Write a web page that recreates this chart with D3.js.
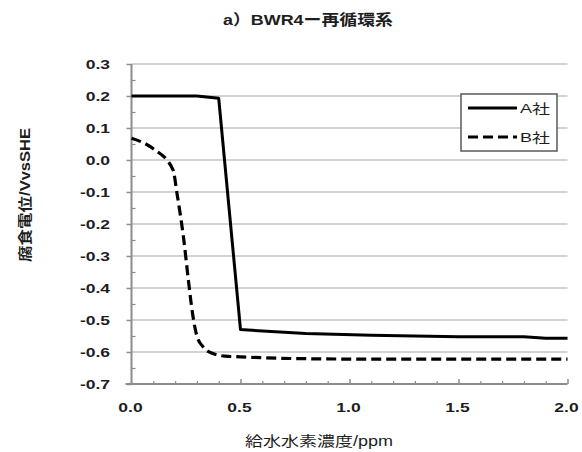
<!DOCTYPE html>
<html>
<head>
<meta charset="utf-8">
<script src="https://cdn.jsdelivr.net/npm/d3@7/dist/d3.min.js"></script>
<style>
  html, body { margin: 0; padding: 0; background: #fff; }
  svg { display: block; }
  text { font-family: "Liberation Sans", Arial, "Noto Sans CJK JP", sans-serif; fill: #1e1e1e; }
</style>
</head>
<body>
<svg id="chart" width="582" height="452"></svg>
<script>
// Corrosion potential vs. feedwater hydrogen concentration (BWR4 recirculation system)
const titleText = "a）BWR4ー再循環系";
const xTitle = "給水水素濃度/ppm";
const yTitle = "腐食電位/VvsSHE";

const seriesNames = ["A社", "B社"];

// Company A (solid line)
const aX = [0, 0.3, 0.4, 0.5, 0.8, 1.1, 1.5, 1.8, 1.9, 2.0];
const aY = [0.2, 0.2, 0.193, -0.53, -0.542, -0.548, -0.552, -0.552, -0.557, -0.557];

// Company B (dashed, smoothed line)
const bX = [0, 0.1, 0.19, 0.21, 0.24, 0.26, 0.28, 0.3, 0.33, 0.37, 0.43, 0.5, 0.6, 0.8, 1.0, 1.5, 2.0];
const bY = [0.068, 0.035, -0.03, -0.11, -0.25, -0.37, -0.48, -0.55, -0.585, -0.604, -0.613, -0.615, -0.618, -0.621, -0.622, -0.622, -0.622];

const xTicks = [0, 0.5, 1.0, 1.5, 2.0];
const yTicks = [0.3, 0.2, 0.1, 0.0, -0.1, -0.2, -0.3, -0.4, -0.5, -0.6, -0.7];

const svg = d3.select("#chart");
const plotLeft = 131.5, plotRight = 567.5, plotTop = 64, plotBottom = 384;

const x = d3.scaleLinear().domain([0, 2]).range([plotLeft, plotRight]);
const y = d3.scaleLinear().domain([-0.7, 0.3]).range([plotBottom, plotTop]);

const grey = "#8c8c8c";

// horizontal gridlines
svg.append("g").selectAll("line")
  .data(yTicks.filter(v => v > -0.7))
  .join("line")
  .attr("x1", plotLeft).attr("x2", plotRight)
  .attr("y1", d => y(d)).attr("y2", d => y(d))
  .attr("stroke", "#a6a6a6").attr("stroke-width", 1.2);

// y axis: outward major ticks, inward minor ticks
const yAxis = svg.append("g").attr("transform", `translate(${plotLeft},0)`)
  .call(d3.axisLeft(y).tickValues(yTicks).tickSize(5).tickFormat(""));
yAxis.select(".domain").remove();
yAxis.selectAll("line").attr("stroke", grey).attr("stroke-width", 1.5);
svg.append("g").attr("transform", `translate(${plotLeft},0)`)
  .call(d3.axisRight(y).tickValues(d3.range(-0.65, 0.3, 0.1)).tickSize(4).tickFormat(""))
  .call(g => g.select(".domain").remove())
  .selectAll("line").attr("stroke", grey).attr("stroke-width", 1.2);
svg.append("line").attr("x1", plotLeft).attr("x2", plotLeft).attr("y1", plotTop).attr("y2", plotBottom)
  .attr("stroke", grey).attr("stroke-width", 2);

// x axis with inward ticks
svg.append("g").attr("transform", `translate(0,${plotBottom})`)
  .call(d3.axisTop(x).tickValues(d3.range(0.1, 2.01, 0.1).filter(v => Math.abs(v * 2 - Math.round(v * 2)) > 1e-6)).tickSize(3).tickFormat(""))
  .call(g => g.select(".domain").remove())
  .selectAll("line").attr("stroke", grey).attr("stroke-width", 1.2);
svg.append("g").attr("transform", `translate(0,${plotBottom})`)
  .call(d3.axisTop(x).tickValues(xTicks.slice(1)).tickSize(5).tickFormat(""))
  .call(g => g.select(".domain").remove())
  .selectAll("line").attr("stroke", grey).attr("stroke-width", 1.5);
svg.append("line").attr("x1", plotLeft - 6).attr("x2", plotRight).attr("y1", plotBottom).attr("y2", plotBottom)
  .attr("stroke", grey).attr("stroke-width", 2);

// tick labels (wide lettering)
const labelScale = 1.4;
svg.append("g").selectAll("g")
  .data(yTicks).join("g")
  .attr("transform", d => `translate(110,${y(d) + 4.5}) scale(${labelScale},1)`)
  .append("text")
  .attr("text-anchor", "end")
  .attr("font-size", 12.5).attr("font-weight", "bold")
  .text(d => d3.format(".1f")(d).replace("−", "-"));

svg.append("g").selectAll("g")
  .data(xTicks).join("g")
  .attr("transform", d => `translate(${x(d) - 1},${412}) scale(${labelScale},1)`)
  .append("text")
  .attr("text-anchor", "middle")
  .attr("font-size", 12.5).attr("font-weight", "bold")
  .text(d => d3.format(".1f")(d));

// titles
svg.append("text")
  .attr("x", 223).attr("y", 25)
  .attr("font-size", 15).attr("font-weight", "bold")
  .attr("textLength", 170).attr("lengthAdjust", "spacingAndGlyphs")
  .text(titleText);

svg.append("text")
  .attr("x", 245).attr("y", 446)
  .attr("font-size", 14)
  .attr("textLength", 148).attr("lengthAdjust", "spacingAndGlyphs")
  .text(xTitle);

svg.append("text")
  .attr("transform", "translate(30,262) rotate(-90)")
  .attr("font-size", 14).attr("font-weight", "bold")
  .attr("textLength", 134).attr("lengthAdjust", "spacingAndGlyphs")
  .text(yTitle);

// data lines
const lineA = d3.line().x(d => x(d[0])).y(d => y(d[1])).curve(d3.curveLinear);
const lineB = d3.line().x(d => x(d[0])).y(d => y(d[1])).curve(d3.curveMonotoneX);

svg.append("path")
  .datum(aX.map((v, i) => [v, aY[i]]))
  .attr("d", lineA)
  .attr("fill", "none").attr("stroke", "#000").attr("stroke-width", 3)
  .attr("stroke-linejoin", "round");

svg.append("path")
  .datum(bX.map((v, i) => [v, bY[i]]))
  .attr("d", lineB)
  .attr("fill", "none").attr("stroke", "#000").attr("stroke-width", 3.2)
  .attr("stroke-dasharray", "10,5");

// legend
const lg = svg.append("g");
lg.append("rect")
  .attr("x", 461).attr("y", 94).attr("width", 96).attr("height", 57)
  .attr("fill", "#fff").attr("stroke", "#595959").attr("stroke-width", 1.5);
const legendRows = [{ name: seriesNames[0], dash: null, yy: 108 }, { name: seriesNames[1], dash: "10,5", yy: 137 }];
legendRows.forEach(r => {
  lg.append("line")
    .attr("x1", 468).attr("x2", 517).attr("y1", r.yy).attr("y2", r.yy)
    .attr("stroke", "#000").attr("stroke-width", 3)
    .attr("stroke-dasharray", r.dash);
  lg.append("text")
    .attr("x", 520).attr("y", r.yy + 5)
    .attr("font-size", 13)
    .attr("textLength", 30).attr("lengthAdjust", "spacingAndGlyphs")
    .text(r.name);
});
</script>
</body>
</html>
